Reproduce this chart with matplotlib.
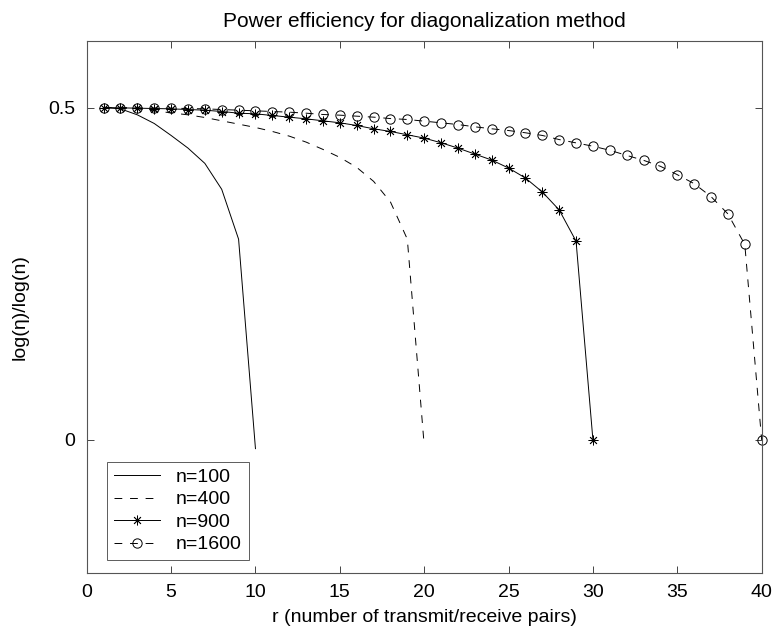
import numpy as np
import matplotlib
matplotlib.use("Agg")
import matplotlib.pyplot as plt

plt.rcParams['font.family'] = ['Liberation Sans', 'DejaVu Sans']

# values
r100 = np.arange(1, 11)
y100 = [0.500, 0.498, 0.489, 0.476, 0.458, 0.439, 0.416, 0.377, 0.302, -0.013]

r400 = np.arange(1, 21)
y400 = [0.500, 0.4995, 0.498, 0.495, 0.492, 0.489, 0.485, 0.480, 0.475, 0.470,
        0.464, 0.457, 0.448, 0.437, 0.425, 0.410, 0.389, 0.358, 0.302, -0.008]

r900 = np.arange(1, 31)
y900 = [0.500, 0.4995, 0.499, 0.4985, 0.498, 0.497, 0.496, 0.494, 0.4915, 0.4905,
        0.488, 0.4855, 0.483, 0.480, 0.477, 0.473, 0.468, 0.464, 0.459, 0.454,
        0.447, 0.439, 0.430, 0.421, 0.409, 0.394, 0.373, 0.346, 0.299, 0.0]

r1600 = np.arange(1, 41)
y1600 = [0.500, 0.4998, 0.4996, 0.4993, 0.499, 0.4985, 0.498, 0.497, 0.496, 0.495,
         0.494, 0.493, 0.4915, 0.4895, 0.4885, 0.487, 0.4855, 0.4834, 0.482, 0.4795,
         0.477, 0.4744, 0.471, 0.468, 0.4654, 0.462, 0.458, 0.4518, 0.4468, 0.4418,
         0.4357, 0.428, 0.4206, 0.4116, 0.399, 0.3855, 0.366, 0.340, 0.294, 0.0]

labels = ["n=100", "n=400", "n=900", "n=1600"]

fig = plt.figure(figsize=(7.75, 6.37), dpi=100)
ax = fig.add_axes([0.1119, 0.1005, 0.8709, 0.8351])

lw = 0.7
ax.plot(r100, y100, color='k', lw=lw, ls='-', label=labels[0])
ax.plot(r400, y400, color='k', lw=lw, ls=(0, (8, 8)), label=labels[1])
ax.plot(r900, y900, color='k', lw=lw, ls='-', marker=(8, 2, 0), ms=7, mew=0.6,
        label=labels[2], clip_on=False)
ax.plot(r1600, y1600, color='k', lw=lw, ls=(0, (8, 8)), marker='o', ms=6.7,
        mfc='none', mew=0.7, label=labels[3], clip_on=False)

ax.set_xlim(0, 40)
ax.set_ylim(-0.2, 0.6)
ax.set_xticks(np.arange(0, 41, 5))
ax.set_yticks([0, 0.5])
ax.set_yticklabels(["0", "0.5"])
ax.tick_params(direction='in', length=5, width=0.7, top=True, right=True,
               labelsize=14, color='#444444', pad=8)
for s in ax.spines.values():
    s.set_color('#555555')
    s.set_linewidth(0.8)

ax.set_title("Power efficiency for diagonalization method", fontsize=15, pad=10)
ax.set_xlabel("r (number of transmit/receive pairs)", fontsize=14, labelpad=6)
ax.set_ylabel("log(η)/log(n)", fontsize=14, labelpad=14)

leg = ax.legend(loc='lower left', bbox_to_anchor=(0.03, 0.024), borderaxespad=0,
                fancybox=False, edgecolor='#333333', fontsize=14, handlelength=2.4,
                handletextpad=0.8, labelspacing=0.25, borderpad=0.35)
leg.get_frame().set_linewidth(0.7)

fig.savefig("out.png", dpi=100)
